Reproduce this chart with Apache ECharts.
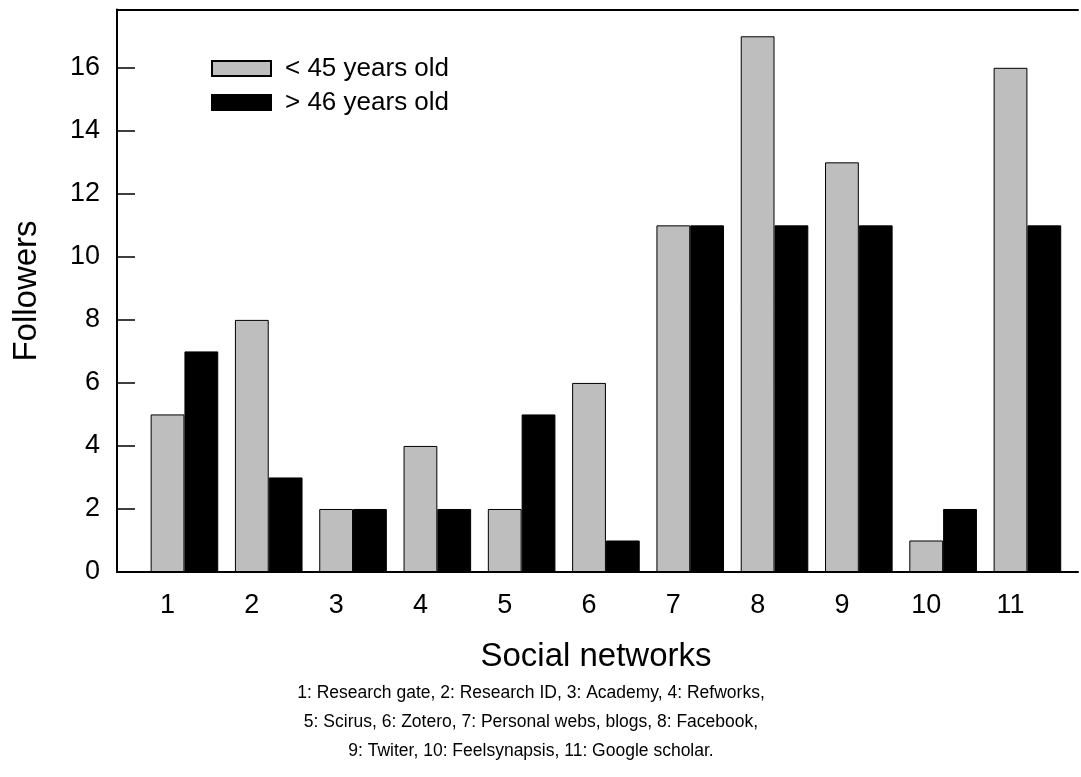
<!DOCTYPE html>
<html>
<head>
<meta charset="utf-8">
<script src="https://cdn.jsdelivr.net/npm/echarts@6/dist/echarts.min.js"></script>
<style>
  html, body { margin: 0; padding: 0; background: #fff; }
  #chart { width: 1081px; height: 777px; }
</style>
</head>
<body>
<div id="chart"></div>
<script>
// social networks, numbered 1..11 on the x axis
const networks = [1, 2, 3, 4, 5, 6, 7, 8, 9, 10, 11];
const networkNames = ['Research gate', 'Research ID', 'Academy', 'Refworks', 'Scirus',
  'Zotero', 'Personal webs, blogs', 'Facebook', 'Twiter', 'Feelsynapsis', 'Google scholar'];
const under45 = [5, 8, 2, 4, 2, 6, 11, 17, 13, 1, 16];
const over46 = [7, 3, 2, 2, 5, 1, 11, 11, 11, 2, 11];
const seriesNames = ['< 45 years old', '> 46 years old'];

const FONT = 'Liberation Sans, Arial, sans-serif';
const BAR_HALF = 0.2; // half bar width in axis units, labels sit under the grey bar

// footnote: 4 + 4 + 3 names per line
let noteLines = [];
let groups = [[0, 4], [4, 8], [8, 11]];
groups.forEach((g, gi) => {
  let parts = [];
  for (let i = g[0]; i < g[1]; i++) parts.push(networks[i] + ': ' + networkNames[i]);
  noteLines.push(parts.join(', ') + (gi < groups.length - 1 ? ',' : '.'));
});

const chart = echarts.init(document.getElementById('chart'), null, { renderer: 'canvas' });

const boxLine = { show: true, onZero: false, lineStyle: { color: '#000', width: 2 } };

chart.setOption({
  animation: false,
  backgroundColor: '#fff',
  grid: { left: 117, top: 9.5, bottom: 205, right: 0 },
  legend: {
    orient: 'vertical',
    left: 206, top: 50.5,
    itemWidth: 59, itemHeight: 15, itemGap: 8,
    icon: 'rect',
    textStyle: { fontFamily: FONT, fontSize: 26, lineHeight: 26, color: '#000', padding: [0, 0, 0, 9] },
    data: seriesNames
  },
  xAxis: [
    {
      type: 'value',
      min: 0.2, max: 11.6, interval: 0.2,
      splitLine: { show: false },
      axisTick: { show: false },
      axisLine: boxLine,
      axisLabel: {
        fontFamily: FONT, fontSize: 27, color: '#000', margin: 20,
        formatter: function (v) {
          let k = v + BAR_HALF;
          return Math.abs(k - Math.round(k)) < 1e-6 && Math.round(k) >= 1 && Math.round(k) <= 11 ? String(Math.round(k)) : '';
        }
      }
    },
    {
      // top border of the box
      type: 'value', position: 'top', min: 0, max: 1,
      splitLine: { show: false }, axisTick: { show: false }, axisLabel: { show: false },
      axisLine: boxLine
    }
  ],
  yAxis: {
    type: 'value',
    min: 0, max: 17.85, interval: 2,
    splitLine: { show: false },
    axisLine: boxLine,
    axisTick: { inside: true, length: 18, lineStyle: { color: '#000', width: 1.5 } },
    axisLabel: {
      fontFamily: FONT, fontSize: 27, color: '#000', margin: 17,
      formatter: function (v) { return v % 2 === 0 ? String(v) : ''; }
    }
  },
  series: [
    {
      name: seriesNames[0], type: 'bar', barWidth: 33.8, barGap: 0,
      itemStyle: { color: '#bebebe', borderColor: '#000', borderWidth: 1 },
      data: networks.map((n, i) => [n, under45[i]])
    },
    {
      name: seriesNames[1], type: 'bar', barWidth: 33.8, barGap: 0,
      itemStyle: { color: '#000', borderColor: '#000', borderWidth: 1 },
      data: networks.map((n, i) => [n, over46[i]])
    }
  ],
  graphic: [
    {
      type: 'text', x: 27, y: 291, rotation: Math.PI / 2,
      style: { text: 'Followers', font: '33px ' + FONT, fill: '#000', textAlign: 'center', textVerticalAlign: 'middle' }
    },
    {
      type: 'text', x: 596, y: 657,
      style: { text: 'Social networks', font: '33px ' + FONT, fill: '#000', textAlign: 'center', textVerticalAlign: 'middle' }
    }
  ].concat(noteLines.map((t, i) => ({
    type: 'text', x: 531, y: 693 + i * 29,
    style: { text: t, font: '17.5px ' + FONT, fill: '#000', textAlign: 'center', textVerticalAlign: 'middle' }
  })))
});
</script>
</body>
</html>
